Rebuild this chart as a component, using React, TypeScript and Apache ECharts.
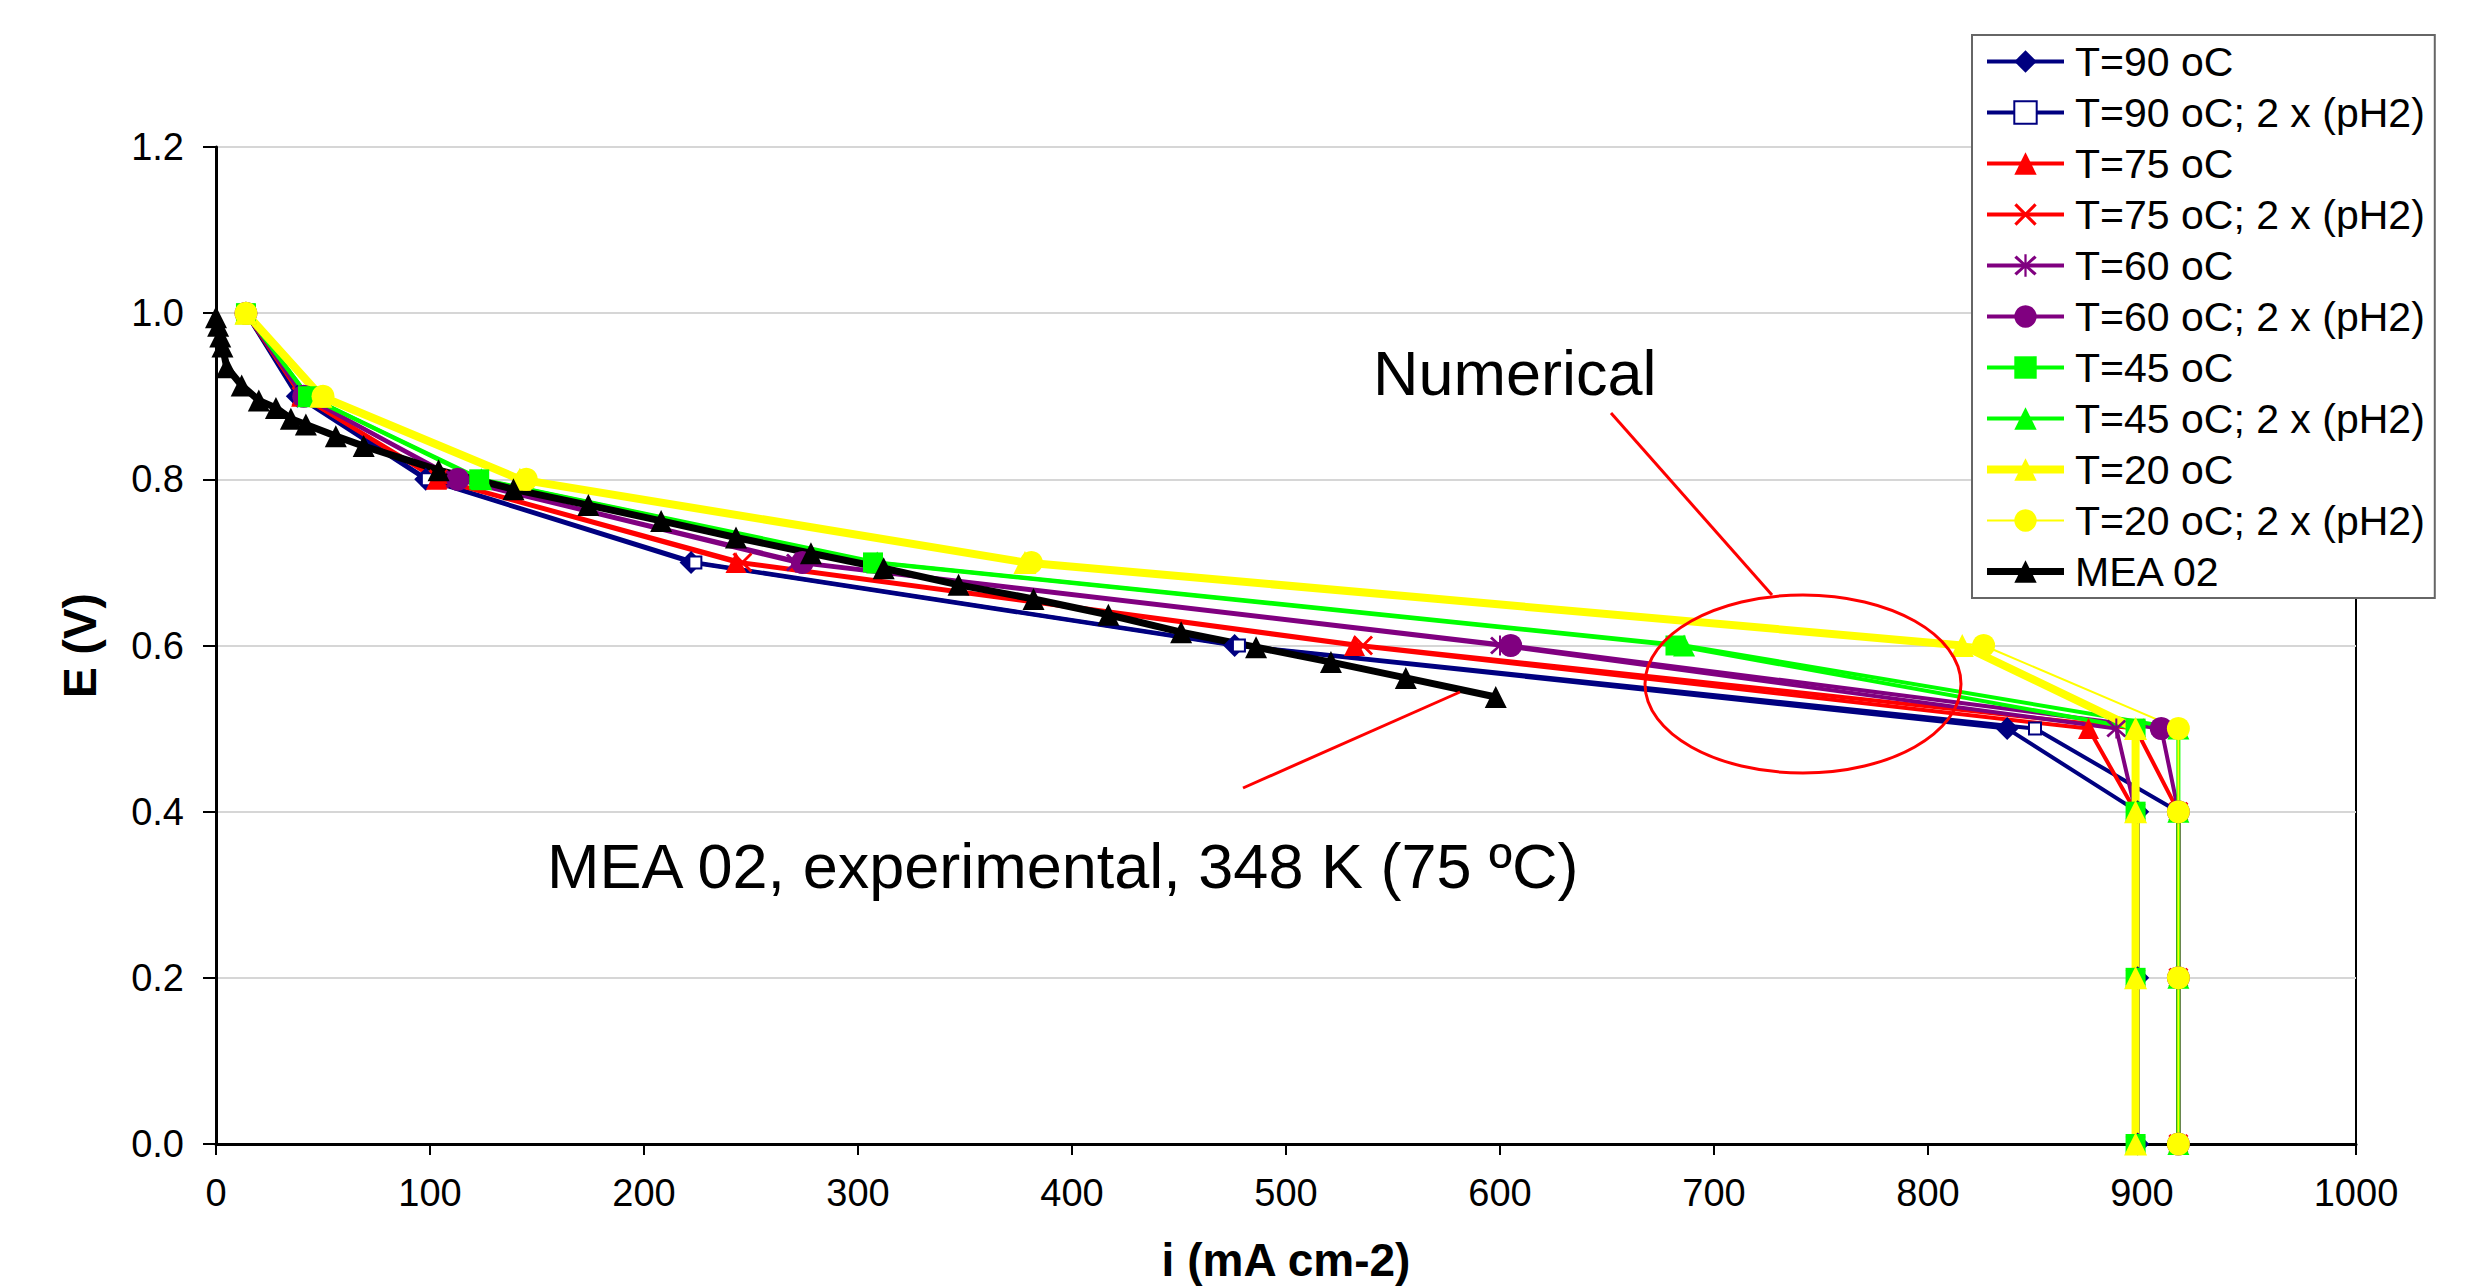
import React, { useEffect, useRef } from "react";
import * as echarts from "echarts";

// Potential levels (V) shared by all numerical curves
const E_LEVELS = [1.0, 0.9, 0.8, 0.7, 0.6, 0.5, 0.4, 0.2, 0.0];

// Current densities (mA cm-2) of the numerical curves at each E level
const I_T90 = [14, 38, 98, 222, 476, 837, 898, 898, 898];
const I_T90_2X = [14, 39, 99, 224, 478, 850, 917, 917, 917];
const I_T75 = [14, 40, 103, 243, 532, 875, 897, 897, 897];
const I_T75_2X = [14, 40, 104, 246, 536, 897, 917, 917, 917];
const I_T60 = [14, 41, 112, 271, 600, 888, 897, 897, 897];
const I_T60_2X = [14, 41, 113, 274, 605, 909, 917, 917, 917];
const I_T45 = [14, 43, 123, 307, 682, 897, 897, 897, 897];
const I_T45_2X = [14, 43, 124, 309, 686, 917, 917, 917, 917];
const I_T20 = [14, 49, 142, 378, 816, 897, 897, 897, 897];
const I_T20_2X = [14, 50, 145, 381, 826, 917, 917, 917, 917];

// Experimental MEA 02 curve
const MEA_I = [0, 1, 2, 3, 5, 12, 20, 28, 35, 42, 56, 69, 104, 139, 174, 208, 243, 278, 312, 347, 382, 417, 451, 486, 521, 556, 598];
const MEA_E = [0.995, 0.985, 0.972, 0.96, 0.935, 0.913, 0.895, 0.886, 0.873, 0.866, 0.852, 0.84, 0.811, 0.788, 0.769, 0.75, 0.73, 0.711, 0.693, 0.673, 0.656, 0.637, 0.616, 0.598, 0.58, 0.561, 0.538];

const SERIES_NAMES = [
  "T=90 oC",
  "T=90 oC; 2 x (pH2)",
  "T=75 oC",
  "T=75 oC; 2 x (pH2)",
  "T=60 oC",
  "T=60 oC; 2 x (pH2)",
  "T=45 oC",
  "T=45 oC; 2 x (pH2)",
  "T=20 oC",
  "T=20 oC; 2 x (pH2)",
  "MEA 02",
];

const X_TICKS = { min: 0, max: 1000, interval: 100 };
const Y_TICKS = { min: 0, max: 1.2, interval: 0.2 };

const FONT = "Liberation Sans";

const X_SYMBOL = "path://M0,2 L2,0 L10,8 L18,0 L20,2 L12,10 L20,18 L18,20 L10,12 L2,20 L0,18 L8,10 Z";
const STAR_SYMBOL =
  "path://M0,3 L2,1 L10,8.5 L18,1 L20,3 L12,10 L20,17 L18,19 L10,11.5 L2,19 L0,17 L8,10 Z M9,0 L11,0 L11,20 L9,20 Z";

const THIN = 4;

function numSeries(name: string, xs: number[], color: string, symbol: string, size: number, width: number, extra: any = {}) {
  return {
    name,
    type: "line",
    data: xs.map((x, k) => [x, E_LEVELS[k]]),
    symbol,
    symbolSize: size,
    showSymbol: true,
    lineStyle: { color, width },
    itemStyle: { color, ...(extra.itemStyle || {}) },
    emphasis: { disabled: true },
    silent: true,
  };
}

export default function App() {
  const ref = useRef<HTMLDivElement>(null);

  useEffect(() => {
    if (!ref.current) return;
    const chart = echarts.init(ref.current, null, { renderer: "svg" });

    const series: any[] = [
      numSeries(SERIES_NAMES[0], I_T90, "#000080", "diamond", 23, THIN),
      numSeries(SERIES_NAMES[1], I_T90_2X, "#000080", "emptyRect", 12, THIN, { itemStyle: { borderWidth: 3 } }),
      numSeries(SERIES_NAMES[2], I_T75, "#ff0000", "triangle", 21, THIN),
      numSeries(SERIES_NAMES[3], I_T75_2X, "#ff0000", X_SYMBOL, 20, THIN),
      numSeries(SERIES_NAMES[4], I_T60, "#800080", STAR_SYMBOL, 20, THIN),
      numSeries(SERIES_NAMES[5], I_T60_2X, "#800080", "circle", 23, THIN),
      numSeries(SERIES_NAMES[6], I_T45, "#00ff00", "rect", 20, THIN),
      numSeries(SERIES_NAMES[7], I_T45_2X, "#00ff00", "triangle", 22, THIN),
      numSeries(SERIES_NAMES[8], I_T20, "#ffff00", "triangle", 23, 8),
      numSeries(SERIES_NAMES[9], I_T20_2X, "#ffff00", "circle", 23, 2),
      {
        name: SERIES_NAMES[10],
        type: "line",
        data: MEA_I.map((x, k) => [x, MEA_E[k]]),
        symbol: "triangle",
        symbolSize: 22,
        showSymbol: true,
        lineStyle: { color: "#000000", width: 7 },
        itemStyle: { color: "#000000" },
        emphasis: { disabled: true },
        silent: true,
      },
    ];

    const legendData = series.map((s) => ({
      name: s.name,
      lineStyle: { width: s.lineStyle.width, color: s.lineStyle.color },
    }));

    chart.setOption({
      animation: false,
      backgroundColor: "#ffffff",
      grid: {
        left: 216,
        right: 118,
        top: 147,
        bottom: 142,
        show: true,
        borderColor: "#000",
        borderWidth: 2,
        backgroundColor: "transparent",
      },
      xAxis: {
        type: "value",
        min: X_TICKS.min,
        max: X_TICKS.max,
        interval: X_TICKS.interval,
        name: "i (mA cm-2)",
        nameLocation: "middle",
        nameGap: 93,
        nameTextStyle: { fontSize: 46, fontWeight: "bold", fontFamily: FONT, color: "#000" },
        axisLine: { show: true, onZero: false, lineStyle: { color: "#000", width: 3 } },
        axisTick: { show: true, length: 11, lineStyle: { color: "#000", width: 2 } },
        axisLabel: {
          fontSize: 38,
          color: "#000",
          margin: 30,
          fontFamily: FONT,
          formatter: (v: number) => String(v),
        },
        splitLine: { show: false },
      },
      yAxis: {
        type: "value",
        min: Y_TICKS.min,
        max: Y_TICKS.max,
        interval: Y_TICKS.interval,
        name: "E (V)",
        nameLocation: "middle",
        nameGap: 113,
        nameTextStyle: { fontSize: 46, fontWeight: "bold", fontFamily: FONT, color: "#000" },
        axisLine: { show: true, onZero: false, lineStyle: { color: "#000", width: 3 } },
        axisTick: { show: true, length: 13, lineStyle: { color: "#000", width: 2 } },
        axisLabel: {
          fontSize: 38,
          color: "#000",
          margin: 32,
          fontFamily: FONT,
          formatter: (v: number) => v.toFixed(1),
        },
        splitLine: { show: true, lineStyle: { color: "#d6d6d6", width: 2 } },
      },
      legend: {
        orient: "vertical",
        left: 1972,
        top: 35,
        itemWidth: 77,
        itemHeight: 28,
        itemGap: 10,
        padding: [6, 10, 6, 11],
        backgroundColor: "#ffffff",
        borderColor: "#666666",
        borderWidth: 2,
        selectedMode: false,
        data: legendData,
        textStyle: { fontSize: 41, fontFamily: FONT, color: "#000", lineHeight: 40, padding: [0, 0, 0, 6] },
      },
      graphic: [
        {
          type: "text",
          x: 1373,
          y: 373,
          z: 100,
          style: { text: "Numerical", fontSize: 63, fontFamily: FONT, fill: "#000", align: "left", verticalAlign: "middle" },
        },
        {
          type: "text",
          x: 547,
          y: 866,
          z: 100,
          style: {
            text: "MEA 02, experimental, 348 K (75 ºC)",
            fontSize: 63,
            fontFamily: FONT,
            fill: "#000",
            align: "left",
            verticalAlign: "middle",
          },
        },
        {
          type: "line",
          z: 100,
          shape: { x1: 1611, y1: 413, x2: 1772, y2: 595 },
          style: { stroke: "#ff0000", lineWidth: 3 },
        },
        {
          type: "line",
          z: 100,
          shape: { x1: 1243, y1: 788, x2: 1460, y2: 692 },
          style: { stroke: "#ff0000", lineWidth: 3 },
        },
        {
          type: "ellipse",
          z: 100,
          shape: { cx: 1803, cy: 684, rx: 158, ry: 89 },
          style: { fill: "none", stroke: "#ff0000", lineWidth: 3 },
        },
      ],
      series,
    });

    return () => chart.dispose();
  }, []);

  return <div ref={ref} style={{ position: "fixed", left: 0, top: 0, width: 2474, height: 1288 }} />;
}
